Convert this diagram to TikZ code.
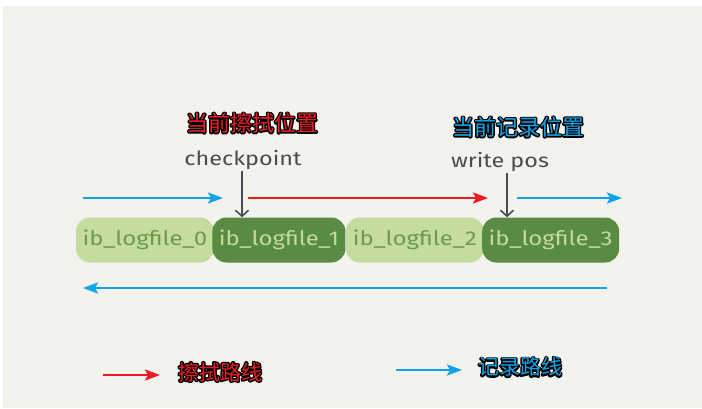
\documentclass[tikz,border=0pt]{standalone}
\usepackage{fontspec}
\setmainfont{Fira Sans}
\newfontfamily\hand{Fira Sans}[FakeStretch=1.2]
\newfontfamily\cjk{Noto Sans CJK SC}
\usetikzlibrary{arrows.meta, positioning}

\definecolor{paper}{HTML}{F4F2ED}
\definecolor{lightfile}{HTML}{C4DD9E}
\definecolor{lighttext}{HTML}{6F9A4D}
\definecolor{darkfile}{HTML}{5A8B44}
\definecolor{darktext}{HTML}{C2DC98}
\definecolor{wipe}{HTML}{EC1C24}
\definecolor{record}{HTML}{10A3E8}
\definecolor{pen}{HTML}{4A4D4F}

% black rim round the chinese labels
\newcommand{\inked}[1]{\rlap{\special{pdf:literal direct 1 Tr 2.8 w 1 j 0 0 0 RG}#1\special{pdf:literal direct 0 Tr}}#1}

\begin{document}
\begin{tikzpicture}[
    x=1pt, y=-1pt,
    file/.style={rectangle, rounded corners=14pt, minimum height=45pt, inner sep=0pt, font=\hand\fontsize{20}{20}\selectfont},
    lightbox/.style={file, fill=lightfile, text=lighttext},
    darkbox/.style={file, fill=darkfile, text=darktext},
    tag/.style={text=pen, inner sep=1pt, font=\hand\fontsize{19.5}{19.5}\selectfont},
    title/.style={inner sep=1pt, font=\cjk\fontsize{22}{22}\selectfont},
    legend/.style={inner sep=1pt, font=\cjk\fontsize{21}{21}\selectfont},
    path/.style={line width=2.6pt, -{Stealth[length=15pt, width=11pt, inset=3pt]}},
    wipepath/.style={path, draw=wipe, fill=wipe},
    recordpath/.style={path, draw=record, fill=record},
    pointer/.style={draw=pen, line width=1.6pt, -{Straight Barb[length=6pt, width=13pt]}}
]

% Paper
\useasboundingbox (0,0) rectangle (702,408);
\fill[white] (0,0) rectangle (702,408);
\fill[paper] (3,6) rectangle (702,408);

% Files
\node[lightbox, minimum width=138pt] (f0) at (145,240) {ib\_logfile\_0};
\node[darkbox, minimum width=133pt, right=-2pt of f0] (f1) {ib\_logfile\_1};
\node[lightbox, minimum width=138pt, right=0pt of f1] (f2) {ib\_logfile\_2};
\node[darkbox, minimum width=137pt, right=-2pt of f2] (f3) {ib\_logfile\_3};

% Markers
\node[tag] (checkpoint) at (243,160) {checkpoint};
\node[tag] (writepos) at (500,162) {write pos};
\node[title, text=wipe] (wipetitle) at (252,123) {\inked{当前擦拭位置}};
\node[title, text=record] (recordtitle) at (518,127) {\inked{当前记录位置}};

\draw[pointer] (checkpoint.south -| 242,0) -- (242,0 |- f1.north);
\draw[pointer] (writepos.south -| 507,0) -- (507,0 |- f3.north);

% Paths
\coordinate (rec0) at (83,198);
\coordinate (rec1) at (223,198);
\coordinate (wipe0) at (248,198);
\coordinate (wipe1) at (488,198);
\coordinate (rec2) at (517,198);
\coordinate (rec3) at (622,198);
\coordinate (back0) at (607,288);
\coordinate (back1) at (83,288);

\draw[recordpath] (rec0) -- (rec1);
\draw[wipepath] (wipe0) -- (wipe1);
\draw[recordpath] (rec2) -- (rec3);
\draw[recordpath] (back0) -- (back1);

% Legend
\coordinate (key0) at (103,375);
\coordinate (key1) at (160,375);
\coordinate (key2) at (396,370);
\coordinate (key3) at (462,370);
\draw[wipepath] (key0) -- (key1);
\draw[recordpath] (key2) -- (key3);
\node[legend, text=wipe] (wipekey) at (220,372) {\inked{擦拭路线}};
\node[legend, text=record] (recordkey) at (520,367) {\inked{记录路线}};

\end{tikzpicture}
\end{document}
